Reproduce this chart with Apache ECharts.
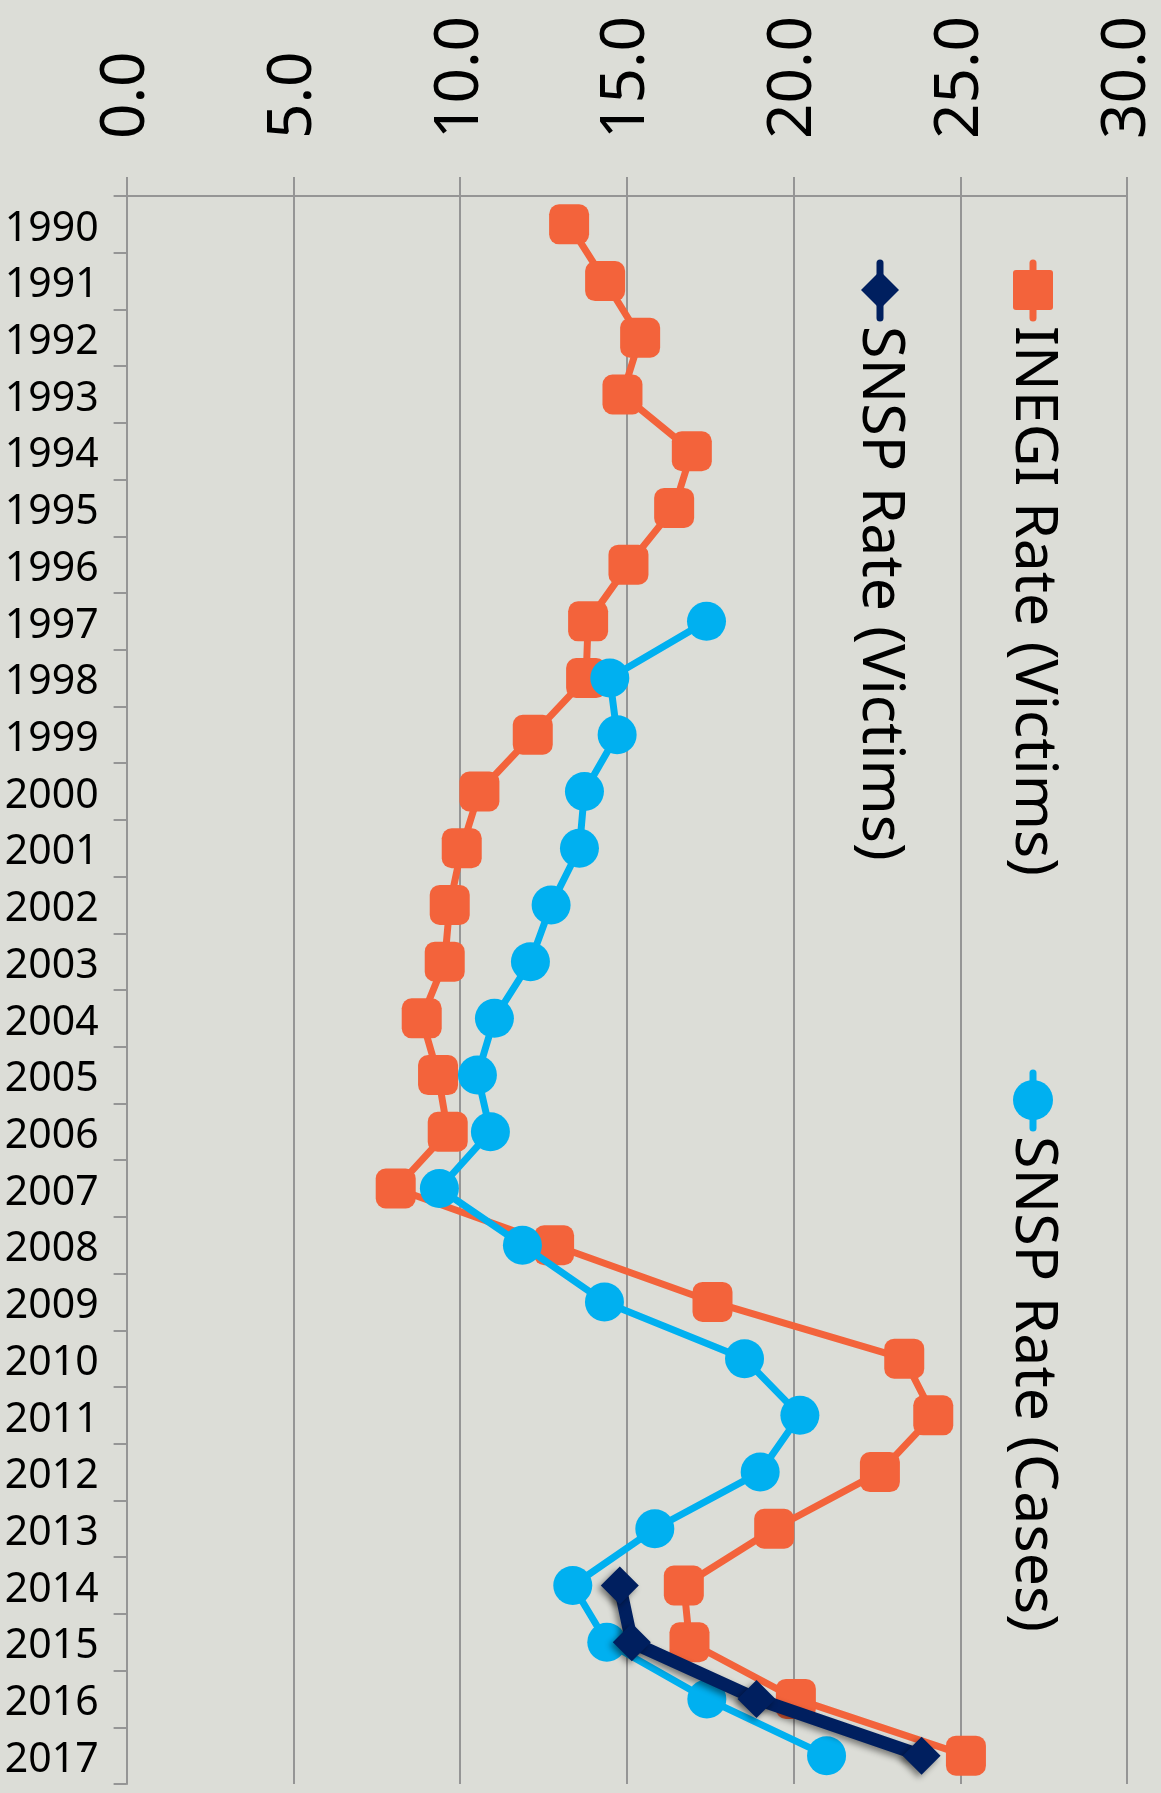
<!DOCTYPE html>
<html>
<head>
<meta charset="utf-8">
<script src="https://cdn.jsdelivr.net/npm/echarts@6/dist/echarts.min.js"></script>
<style>
html,body{margin:0;padding:0;background:#DCDDD7;}
#chart{width:1161px;height:1793px;}
</style>
</head>
<body>
<div id="chart"></div>
<script>
const years = ['1990','1991','1992','1993','1994','1995','1996','1997','1998','1999','2000','2001','2002','2003','2004','2005','2006','2007','2008','2009','2010','2011','2012','2013','2014','2015','2016','2017'];
const inegiRate = [13.27,14.35,15.40,14.87,16.95,16.42,15.05,13.84,13.78,12.18,10.58,10.05,9.69,9.54,8.85,9.34,9.63,8.07,12.82,17.57,23.32,24.19,22.59,19.42,16.71,16.88,20.07,25.17];
const snspCases = [null,null,null,null,null,null,null,17.39,14.49,14.71,13.73,13.58,12.73,12.11,11.03,10.52,10.91,9.38,11.87,14.33,18.53,20.19,19.00,15.84,13.38,14.40,17.40,20.99];
const snspVictims = [null,null,null,null,null,null,null,null,null,null,null,null,null,null,null,null,null,null,null,null,null,null,null,null,14.79,15.15,18.89,23.84];
const seriesNames = ['INEGI Rate (Victims)','SNSP Rate (Victims)','SNSP Rate (Cases)'];
const valueMin = 0, valueMax = 30, valueStep = 5;

const ORANGE = '#F3633B', BLUE = '#00B0F0', NAVY = '#001F5F';
const FONT = '"Noto Sans", "DejaVu Sans", sans-serif';
const GRID = '#959595';

const chart = echarts.init(document.getElementById('chart'));
const shadow = {shadowColor:'rgba(0,0,0,0.45)', shadowBlur:6, shadowOffsetX:-3, shadowOffsetY:3};

function legendItem(cx, cy, color, kind, label){
  const children = [
    {type:'line', shape:{x1:cx, y1:cy-27, x2:cx, y2:cy+28}, style:{stroke:color, lineWidth:7, lineCap:'round'}}
  ];
  if(kind==='square') children.push({type:'rect', shape:{x:cx-20, y:cy-20, width:40, height:40, r:3}, style:{fill:color}});
  if(kind==='circle') children.push({type:'circle', shape:{cx:cx, cy:cy, r:20}, style:{fill:color}});
  if(kind==='diamond') children.push({type:'polygon', shape:{points:[[cx,cy-19],[cx+19,cy],[cx,cy+19],[cx-19,cy]]}, style:{fill:color}});
  children.push({type:'text', x:cx, y:cy+36, rotation:-Math.PI/2,
    style:{text:label, fill:'#000', font:'59px '+FONT, textAlign:'left', textVerticalAlign:'middle'}});
  return {type:'group', children:children};
}

chart.setOption({
  backgroundColor:'#DCDDD7',
  animation:false,
  grid:{left:126.6, right:34, top:196, bottom:9, containLabel:false},
  xAxis:{
    type:'value', position:'top', min:valueMin, max:valueMax, interval:valueStep,
    axisLine:{show:true, lineStyle:{color:GRID, width:2}},
    axisTick:{show:true, length:19, lineStyle:{color:GRID, width:2}},
    splitLine:{show:true, lineStyle:{color:GRID, width:2}},
    axisLabel:{rotate:-90, margin:57, color:'#000', fontSize:62, fontFamily:FONT,
      formatter:v=>v.toFixed(1)}
  },
  yAxis:{
    type:'category', data:years, inverse:true, boundaryGap:true,
    axisLine:{show:true, lineStyle:{color:GRID, width:2}},
    axisTick:{show:true, length:13, lineStyle:{color:GRID, width:2}},
    splitLine:{show:false},
    axisLabel:{margin:28, formatter:v=>'{y|'+v+'}',
      rich:{y:{color:'#000', fontSize:41, fontFamily:FONT, padding:[9,0,0,0]}}}
  },
  series:[
    {name:seriesNames[0], type:'line', data:inegiRate, symbol:'roundRect', symbolSize:40,
     lineStyle:{color:ORANGE, width:7}, itemStyle:{color:ORANGE}, z:2},
    {name:seriesNames[2], type:'line', data:snspCases, symbol:'circle', symbolSize:39,
     lineStyle:{color:BLUE, width:7}, itemStyle:{color:BLUE}, z:3},
    {name:seriesNames[1], type:'line', data:snspVictims, symbol:'diamond', symbolSize:[38,38],
     lineStyle:Object.assign({color:NAVY, width:13}, shadow), itemStyle:Object.assign({color:NAVY}, shadow), z:4}
  ],
  graphic:[
    legendItem(1033, 290, ORANGE, 'square', seriesNames[0]),
    legendItem(880, 290, NAVY, 'diamond', seriesNames[1]),
    legendItem(1033, 1100, BLUE, 'circle', seriesNames[2])
  ]
});
</script>
</body>
</html>
